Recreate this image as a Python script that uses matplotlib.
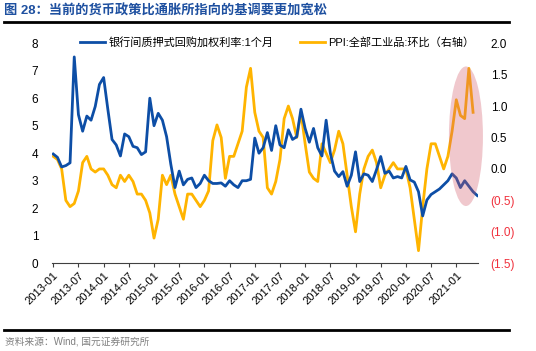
import numpy as np
import matplotlib
matplotlib.use('Agg')
from matplotlib import pyplot as plt
from matplotlib.patches import Ellipse

plt.rcParams['font.family'] = ['Liberation Sans', 'Noto Sans CJK SC']

# monthly points, index 0 sits on the 2013-01 tick
repo_1m = [3.97, 3.85, 3.5, 3.55, 3.65, 7.5, 5.4, 4.8, 5.35, 5.2,
           5.7, 6.5, 6.75, 5.6, 4.5, 4.3, 3.9, 4.7, 4.6, 4.25,
           4.2, 3.95, 4.05, 6.0, 5.0, 5.45, 5.2, 4.6, 3.6, 2.75,
           3.35, 2.85, 3.05, 3.1, 2.75, 2.9, 3.2, 3.0, 2.9, 2.9,
           2.92, 2.8, 3.0, 2.85, 2.75, 3.0, 3.0, 3.05, 4.55, 4.0,
           4.2, 4.75, 4.1, 5.0, 4.3, 4.2, 4.85, 4.5, 4.6, 5.6,
           4.9, 4.4, 4.9, 4.2, 3.9, 5.2, 4.0, 3.35, 3.15, 3.33,
           2.8, 3.2, 4.05, 2.97, 3.25, 3.2, 2.97, 3.4, 3.88, 3.27,
           3.35, 3.1, 3.15, 3.1, 3.52, 3.03, 2.95, 2.6, 1.72, 2.3,
           2.5, 2.6, 2.7, 2.85, 3.0, 3.25, 3.1, 2.75, 3.0, 2.8,
           2.6, 2.46]

ppi_mom = [0.2, 0.15, 0.0, -0.5, -0.6, -0.55, -0.35, 0.1, 0.2, 0.0,
           -0.05, 0.0, 0.0, -0.1, -0.25, -0.3, -0.1, -0.2, -0.1, -0.2,
           -0.4, -0.4, -0.5, -0.7, -1.1, -0.8, -0.1, -0.25, -0.1, -0.4,
           -0.6, -0.8, -0.4, -0.4, -0.5, -0.6, -0.5, -0.35, 0.45, 0.7,
           0.5, -0.15, 0.2, 0.2, 0.4, 0.6, 1.3, 1.6, 0.9, 0.6,
           0.5, -0.3, -0.4, -0.2, 0.15, 0.8, 1.0, 0.8, 0.5, 0.9,
           0.4, -0.05, -0.15, -0.2, 0.4, 0.25, 0.1, 0.3, 0.6, 0.4,
           -0.1, -0.6, -1.0, -0.4, 0.0, 0.2, 0.3, 0.1, -0.3, -0.1,
           0.0, 0.1, 0.0, 0.0, 0.0, -0.3, -0.8, -1.3, -0.6, 0.0,
           0.4, 0.4, 0.2, 0.0, 0.2, 0.6, 1.1, 0.85, 0.8, 1.6,
           0.9]

tick_labels = ['2013-01', '2013-07', '2014-01', '2014-07', '2015-01', '2015-07',
               '2016-01', '2016-07', '2017-01', '2017-07', '2018-01', '2018-07',
               '2019-01', '2019-07', '2020-01', '2020-07', '2021-01']

blue = '#0D4EA6'
orange = '#FFB400'

fig = plt.figure(figsize=(5.36, 3.51), dpi=100)
ax = fig.add_axes([0.0974, 0.250, 0.7946, 0.627])
ax2 = ax.twinx()

l1, = ax.plot(np.arange(len(repo_1m)), repo_1m, color=blue, lw=2, zorder=3)
l2, = ax2.plot(np.arange(len(ppi_mom)), ppi_mom, color=orange, lw=2, zorder=2)
ax.set_zorder(ax2.get_zorder() + 1)
ax.patch.set_visible(False)

ax.set_xlim(-0.25, 101.2)
ax.set_ylim(0, 8)
ax2.set_ylim(-1.5, 2.0)

for a in (ax, ax2):
    for s in ('top', 'left', 'right'):
        a.spines[s].set_visible(False)
ax.spines['bottom'].set_color('#404040')
ax2.spines['bottom'].set_visible(False)

ax.set_xticks(np.arange(0, 97, 6))
ax.set_xticklabels(tick_labels, rotation=45, ha='right', rotation_mode='anchor', fontsize=8)
ax.tick_params(axis='x', length=3, color='#404040', pad=2)
ax.set_yticks(range(0, 9))
ax.tick_params(axis='y', length=0, pad=10, labelsize=8.5)

rt = [-1.5, -1.0, -0.5, 0.0, 0.5, 1.0, 1.5, 2.0]
ax2.set_yticks(rt)
ax2.set_yticklabels(['(%.1f)' % -v if v < 0 else '%.1f' % v for v in rt])
ax2.tick_params(axis='y', length=0, pad=9, labelsize=8.5)
for t, v in zip(ax2.get_yticklabels(), rt):
    if v < 0:
        t.set_color('#F0303C')

# highlight recent months
ell = Ellipse((98.3, 0.52), 8.1, 2.22, facecolor='#D25A69', alpha=0.33,
              edgecolor='none', zorder=5, transform=ax2.transData)
fig.add_artist(ell)

fig.legend([l1, l2], ['银行间质押式回购加权利率:1个月', 'PPI:全部工业品:环比（右轴）'],
           loc='center left', bbox_to_anchor=(80 / 536, 1 - 42 / 351), ncol=2,
           frameon=False, fontsize=8, handlelength=2.25, handletextpad=0.3,
           columnspacing=2.4, borderpad=0, borderaxespad=0)

fig.text(4 / 536, 1 - 11 / 351, '图 28：当前的货币政策比通胀所指向的基调要更加宽松',
         fontsize=9.5, fontweight='bold', color='#1E50A0', va='center', ha='left')
fig.add_artist(plt.Line2D([4 / 536, 509 / 536], [1 - 22 / 351] * 2, color='black', lw=2))
fig.add_artist(plt.Line2D([4 / 536, 509 / 536], [1 - 330 / 351] * 2, color='black', lw=2))
fig.text(5 / 536, 1 - 341 / 351, '资料来源：Wind, 国元证券研究所', fontsize=7,
         color='#808080', va='center', ha='left')

plt.savefig('out.png', dpi=100)
